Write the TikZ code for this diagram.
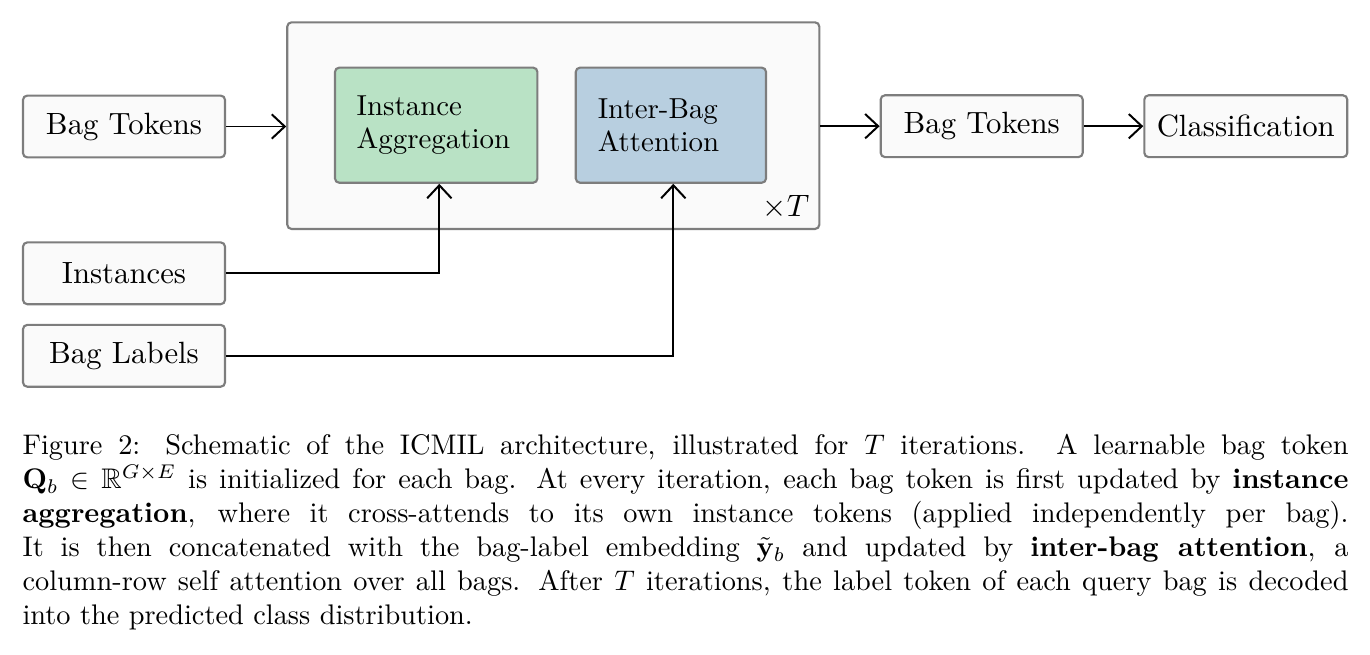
\documentclass[tikz,border=0pt]{standalone}
\usepackage{amssymb}
\usetikzlibrary{arrows.meta,calc}
\definecolor{boxfill}{RGB}{250,250,250}
\definecolor{boxdraw}{RGB}{125,125,125}
\definecolor{aggfill}{RGB}{185,226,197}
\definecolor{attfill}{RGB}{184,207,224}
\begin{document}
\begin{tikzpicture}[x=0.3528pt,y=-0.3528pt,
  box/.style={draw=boxdraw, line width=0.75pt, rounded corners=1.5pt, fill=boxfill, inner sep=0pt},
  io/.style={box, minimum width=71.27pt, minimum height=21.8pt, font=\fontsize{10.85}{13}\selectfont},
  inner/.style={box, minimum height=40.6pt, align=left, font=\fontsize{10.2}{11.6}\selectfont},
  conn/.style={line width=0.7pt, -{Straight Barb[length=4.6pt,width=8.6pt,line width=0.7pt]}},
]
\useasboundingbox (0,0) rectangle (1370,655);

\node[box, minimum width=187.7pt, minimum height=72.9pt] (outer) at (553.3,125.65) {};
\node[inner, fill=aggfill, inner xsep=7.66pt, text width=56.1pt] (ia) at (436.2,125.2) {Instance\\Aggregation};
\node[inner, fill=attfill, inner xsep=7.76pt, text width=51.6pt] (iba) at (670.9,125.2) {Inter-Bag\\Attention};
\node[anchor=base east, inner sep=0pt, font=\fontsize{10.5}{12}\selectfont] (times) at (810,216.7) {$\times T$};

\node[io] (bt1) at (124,126.5) {Bag Tokens};
\node[io] (inst) at (124,273.3) {Instances};
\node[io] (lab) at (124,355.8) {Bag Labels};
\node[io] (bt2) at (981.7,126.2) {Bag Tokens};
\node[io, minimum width=71.6pt] (cls) at (1245.8,126.2) {Classification};

\draw[conn] (bt1.east) -- (outer.west |- bt1.east);
\draw[conn] (outer.east |- bt2.west) -- (bt2.west);
\draw[conn] (bt2.east) -- (cls.west);
\draw[conn] (inst.east) -| ([xshift=1.1pt]ia.south);
\draw[conn] (lab.east) -| ([xshift=0.85pt]iba.south);

\node[anchor=north west, inner sep=0pt, text width=467.8pt, align=justify] (cap) at (22,434)
{Figure 2: Schematic of the ICMIL architecture, illustrated for $T$ iterations. A learnable bag token\linebreak
$\mathbf{Q}_b \in \mathbb{R}^{G\times E}$ is initialized for each bag. At every iteration, each bag token is first updated by \textbf{instance}\linebreak
\textbf{aggregation}, where it cross-attends to its own instance tokens (applied independently per bag).\linebreak
It is then concatenated with the bag-label embedding $\tilde{\mathbf{y}}_b$ and updated by \textbf{inter-bag attention}, a\linebreak
column-row self attention over all bags. After $T$ iterations, the label token of each query bag is decoded\linebreak
into the predicted class distribution.};
\end{tikzpicture}
\end{document}
